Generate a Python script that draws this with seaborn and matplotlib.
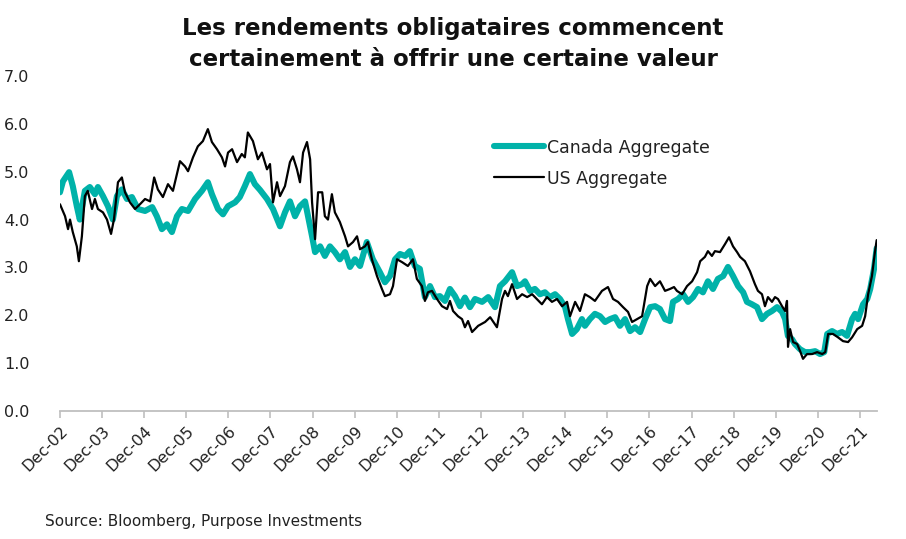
import pandas as pd
import matplotlib.pyplot as plt
import matplotlib.dates as mdates
import seaborn as sns

# yields (%)
us_dates = [
    "2002-12-01", "2003-01-14", "2003-02-09", "2003-02-26", "2003-03-22", "2003-04-26", "2003-05-14",
    "2003-06-09", "2003-07-05", "2003-07-30", "2003-09-05", "2003-09-30", "2003-10-26", "2003-12-09",
    "2004-01-13", "2004-02-17", "2004-03-13", "2004-04-17", "2004-05-21", "2004-06-17", "2004-07-30",
    "2004-09-12", "2004-10-25", "2004-12-08", "2005-01-21", "2005-02-25", "2005-03-29", "2005-05-12",
    "2005-06-25", "2005-08-07", "2005-10-07", "2005-11-20", "2005-12-16", "2006-01-28", "2006-03-11",
    "2006-04-24", "2006-06-06", "2006-07-11", "2006-08-24", "2006-10-06", "2006-11-02", "2006-11-28",
    "2007-01-02", "2007-02-14", "2007-03-27", "2007-04-23", "2007-05-19", "2007-07-02", "2007-08-14",
    "2007-09-18", "2007-11-01", "2007-11-27", "2007-12-23", "2008-01-27", "2008-02-22", "2008-04-05",
    "2008-05-18", "2008-06-13", "2008-07-18", "2008-08-13", "2008-09-09", "2008-10-13", "2008-11-09",
    "2008-11-26", "2008-12-22", "2009-01-17", "2009-02-22", "2009-03-17", "2009-04-13", "2009-05-17",
    "2009-06-12", "2009-07-25", "2009-09-08", "2009-10-04", "2009-11-16", "2009-12-21", "2010-01-16",
    "2010-02-28", "2010-03-25", "2010-04-29", "2010-06-12", "2010-07-25", "2010-08-20", "2010-10-03",
    "2010-10-29", "2010-12-03", "2011-01-16", "2011-03-07", "2011-04-20", "2011-05-24", "2011-07-07",
    "2011-08-02", "2011-08-28", "2011-10-02", "2011-11-15", "2011-12-28", "2012-02-10", "2012-03-06",
    "2012-04-02", "2012-05-15", "2012-06-19", "2012-07-14", "2012-08-10", "2012-09-14", "2012-11-06",
    "2013-01-05", "2013-02-18", "2013-04-18", "2013-06-01", "2013-06-27", "2013-07-22", "2013-08-27",
    "2013-10-09", "2013-11-22", "2014-01-05", "2014-02-17", "2014-03-30", "2014-05-13", "2014-06-26",
    "2014-08-08", "2014-09-21", "2014-11-04", "2014-12-17", "2015-01-12", "2015-02-25", "2015-04-08",
    "2015-05-21", "2015-07-03", "2015-08-16", "2015-10-16", "2015-12-07", "2016-01-20", "2016-03-03",
    "2016-04-16", "2016-05-29", "2016-07-03", "2016-08-15", "2016-09-28", "2016-11-11", "2016-12-07",
    "2017-01-19", "2017-03-02", "2017-04-15", "2017-05-28", "2017-07-02", "2017-07-27", "2017-09-10",
    "2017-10-23", "2017-12-06", "2018-01-18", "2018-02-14", "2018-03-27", "2018-04-22", "2018-05-27",
    "2018-06-22", "2018-08-05", "2018-09-18", "2018-10-22", "2018-11-26", "2018-12-31", "2019-01-26",
    "2019-03-09", "2019-04-22", "2019-06-04", "2019-06-30", "2019-08-04", "2019-08-30", "2019-09-25",
    "2019-10-30", "2019-11-25", "2019-12-21", "2020-01-25", "2020-02-21", "2020-03-08", "2020-03-17",
    "2020-04-04", "2020-04-30", "2020-06-04", "2020-06-30", "2020-07-25", "2020-08-29", "2020-10-12",
    "2020-11-25", "2021-01-08", "2021-02-03", "2021-02-28", "2021-04-11", "2021-05-24", "2021-07-07",
    "2021-08-20", "2021-09-24", "2021-11-07", "2021-12-20", "2022-01-15", "2022-02-10", "2022-03-15",
    "2022-04-10", "2022-04-25",
]
us_yield = [
    4.32, 4.07, 3.80, 4.00, 3.74, 3.44, 3.13,
    3.65, 4.49, 4.60, 4.22, 4.43, 4.22, 4.15,
    4.00, 3.70, 4.00, 4.78, 4.88, 4.57, 4.36,
    4.22, 4.32, 4.43, 4.38, 4.88, 4.63, 4.47,
    4.74, 4.60, 5.22, 5.11, 5.01, 5.30, 5.53,
    5.64, 5.89, 5.62, 5.47, 5.30, 5.11, 5.40,
    5.47, 5.20, 5.37, 5.30, 5.82, 5.64, 5.26,
    5.40, 5.05, 5.16, 4.36, 4.78, 4.49, 4.70,
    5.20, 5.32, 5.05, 4.78, 5.40, 5.62, 5.26,
    4.36, 3.59, 4.57, 4.57, 4.07, 4.00, 4.53,
    4.15, 3.95, 3.65, 3.44, 3.53, 3.65, 3.38,
    3.44, 3.53, 3.17, 2.82, 2.55, 2.40, 2.44,
    2.61, 3.17, 3.11, 3.03, 3.17, 2.76, 2.61,
    2.30, 2.48, 2.51, 2.34, 2.19, 2.13, 2.30,
    2.09, 1.98, 1.92, 1.75, 1.88, 1.65, 1.78,
    1.86, 1.96, 1.75, 2.34, 2.51, 2.40, 2.65,
    2.34, 2.44, 2.38, 2.44, 2.34, 2.23, 2.38,
    2.28, 2.34, 2.19, 2.28, 1.98, 2.28, 2.09,
    2.44, 2.38, 2.30, 2.51, 2.59, 2.34, 2.28,
    2.17, 2.07, 1.86, 1.92, 1.98, 2.61, 2.76,
    2.61, 2.71, 2.51, 2.55, 2.59, 2.51, 2.44,
    2.61, 2.71, 2.90, 3.13, 3.22, 3.34, 3.24,
    3.34, 3.32, 3.49, 3.63, 3.44, 3.32, 3.22,
    3.13, 2.92, 2.65, 2.51, 2.44, 2.19, 2.38,
    2.28, 2.38, 2.34, 2.19, 2.09, 2.30, 1.34,
    1.71, 1.44, 1.40, 1.25, 1.09, 1.19, 1.19,
    1.23, 1.19, 1.23, 1.61, 1.61, 1.54, 1.46,
    1.44, 1.54, 1.71, 1.78, 1.98, 2.44, 2.82,
    3.32, 3.57,
]

cad_dates = [
    "2002-12-01", "2002-12-27", "2003-02-18", "2003-03-22", "2003-04-26", "2003-05-22", "2003-07-05",
    "2003-08-17", "2003-09-30", "2003-10-26", "2003-12-09", "2004-01-21", "2004-03-04", "2004-04-08",
    "2004-05-21", "2004-07-04", "2004-08-16", "2004-10-08", "2004-12-08", "2005-02-08", "2005-03-20",
    "2005-05-03", "2005-06-16", "2005-07-29", "2005-09-11", "2005-10-24", "2005-12-16", "2006-02-15",
    "2006-04-15", "2006-06-06", "2006-07-11", "2006-09-02", "2006-10-15", "2006-11-28", "2007-01-28",
    "2007-03-10", "2007-04-23", "2007-06-06", "2007-07-19", "2007-09-01", "2007-11-01", "2007-12-23",
    "2008-02-22", "2008-04-05", "2008-05-18", "2008-07-01", "2008-08-13", "2008-09-26", "2008-10-22",
    "2008-11-26", "2008-12-22", "2009-02-04", "2009-03-17", "2009-04-30", "2009-06-12", "2009-07-25",
    "2009-09-08", "2009-10-21", "2009-12-03", "2010-01-16", "2010-03-16", "2010-05-07", "2010-07-07",
    "2010-08-20", "2010-10-03", "2010-11-16", "2010-12-29", "2011-02-11", "2011-03-24", "2011-05-07",
    "2011-06-19", "2011-08-02", "2011-09-15", "2011-10-28", "2011-12-10", "2012-01-23", "2012-03-06",
    "2012-04-19", "2012-06-01", "2012-07-14", "2012-08-27", "2012-10-10", "2012-12-10", "2013-02-01",
    "2013-04-01", "2013-05-14", "2013-06-27", "2013-08-27", "2013-10-09", "2013-11-22", "2013-12-17",
    "2014-01-30", "2014-03-13", "2014-04-26", "2014-06-08", "2014-07-21", "2014-09-04", "2014-10-17",
    "2014-11-30", "2014-12-25", "2015-01-30", "2015-03-12", "2015-04-25", "2015-05-21", "2015-07-03",
    "2015-08-16", "2015-09-29", "2015-11-12", "2015-12-25", "2016-02-07", "2016-03-20", "2016-05-03",
    "2016-06-16", "2016-07-29", "2016-09-11", "2016-10-24", "2016-12-07", "2017-01-19", "2017-03-02",
    "2017-04-15", "2017-05-28", "2017-06-23", "2017-08-06", "2017-09-18", "2017-11-01", "2017-12-14",
    "2018-01-27", "2018-03-10", "2018-04-22", "2018-06-05", "2018-07-18", "2018-09-01", "2018-10-13",
    "2018-11-26", "2019-01-09", "2019-02-22", "2019-03-27", "2019-05-09", "2019-06-22", "2019-08-04",
    "2019-09-17", "2019-10-30", "2019-12-13", "2020-01-25", "2020-02-21", "2020-03-16", "2020-04-21",
    "2020-05-16", "2020-06-29", "2020-08-12", "2020-09-25", "2020-11-07", "2020-12-20", "2021-01-25",
    "2021-02-20", "2021-04-03", "2021-05-16", "2021-06-29", "2021-08-11", "2021-09-24", "2021-10-20",
    "2021-11-15", "2021-12-28", "2022-02-02", "2022-02-28", "2022-04-02", "2022-04-25",
]
cad_yield = [
    4.57, 4.80, 4.99, 4.70, 4.28, 4.00, 4.60,
    4.68, 4.53, 4.68, 4.49, 4.28, 4.00, 4.49,
    4.63, 4.43, 4.47, 4.22, 4.18, 4.26, 4.07,
    3.80, 3.90, 3.74, 4.07, 4.22, 4.18, 4.43,
    4.60, 4.78, 4.53, 4.22, 4.11, 4.28, 4.36,
    4.47, 4.70, 4.95, 4.74, 4.62, 4.43, 4.22,
    3.86, 4.15, 4.38, 4.07, 4.28, 4.38, 4.07,
    3.65, 3.32, 3.44, 3.24, 3.44, 3.32, 3.17,
    3.32, 3.01, 3.17, 3.03, 3.53, 3.17, 2.90,
    2.69, 2.82, 3.17, 3.28, 3.24, 3.34, 3.03,
    2.97, 2.38, 2.61, 2.38, 2.40, 2.30, 2.55,
    2.40, 2.19, 2.37, 2.17, 2.34, 2.28, 2.38,
    2.17, 2.61, 2.71, 2.90, 2.61, 2.65, 2.71,
    2.51, 2.55, 2.44, 2.48, 2.38, 2.44, 2.34,
    2.17, 1.92, 1.61, 1.71, 1.92, 1.78, 1.92,
    2.03, 1.98, 1.86, 1.92, 1.96, 1.78, 1.92,
    1.67, 1.75, 1.65, 1.92, 2.17, 2.19, 2.13,
    1.92, 1.88, 2.28, 2.34, 2.44, 2.28, 2.38,
    2.55, 2.48, 2.71, 2.55, 2.76, 2.82, 3.01,
    2.82, 2.61, 2.48, 2.28, 2.23, 2.17, 1.92,
    2.03, 2.09, 2.17, 2.07, 1.92, 1.57, 1.50,
    1.40, 1.29, 1.23, 1.23, 1.25, 1.19, 1.23,
    1.61, 1.67, 1.61, 1.65, 1.57, 1.92, 2.03,
    1.92, 2.23, 2.34, 2.55, 2.97, 3.40,
]

tick_years = list(range(2002, 2022))

TEAL = "#00B2A9"
GREY = "#BFBFBF"

sns.set_theme(style="white")
plt.rcParams["font.family"] = ["DejaVu Sans"]

us = pd.DataFrame({"date": pd.to_datetime(us_dates), "yield": us_yield})
cad = pd.DataFrame({"date": pd.to_datetime(cad_dates), "yield": cad_yield})

fig = plt.figure(figsize=(9.06, 5.39), dpi=100)
ax = fig.add_axes([0.0662, 0.2375, 0.9018, 0.6215])

sns.lineplot(x="date", y="yield", data=cad, color=TEAL, linewidth=4.4,
             label="Canada Aggregate", ax=ax)
sns.lineplot(x="date", y="yield", data=us, color="black", linewidth=1.6,
             label="US Aggregate", ax=ax)

ax.set_xlim(pd.Timestamp("2002-12-01"), pd.Timestamp("2022-04-28"))
ax.set_ylim(0, 7)
ax.set_yticks([0, 1, 2, 3, 4, 5, 6, 7])
ax.set_yticklabels([f"{v:.1f}" for v in range(8)], fontsize=11.5, color="#222222")

ticks = [pd.Timestamp(f"{y}-12-01") for y in tick_years]
ax.set_xticks(ticks)
ax.xaxis.set_major_formatter(mdates.DateFormatter("%b-%y"))
plt.setp(ax.get_xticklabels(), rotation=45, ha="right", rotation_mode="anchor",
         fontsize=11.5, color="#222222")

ax.set_xlabel("")
ax.set_ylabel("")
for side in ["left", "right", "top"]:
    ax.spines[side].set_visible(False)
ax.spines["bottom"].set_color(GREY)
ax.spines["bottom"].set_linewidth(1.3)
ax.tick_params(axis="x", which="major", bottom=True, length=5, width=1.2,
               color=GREY, pad=4)
ax.tick_params(axis="y", left=False, pad=16)
ax.grid(False)

leg = ax.legend(loc="upper left", bbox_to_anchor=(0.512, 0.86), frameon=False,
                fontsize=12.5, handlelength=2.9, handletextpad=0.15, labelspacing=0.75)
for t in leg.get_texts():
    t.set_color("#222222")

fig.text(0.5, 0.968, "Les rendements obligataires commencent\ncertainement à offrir une certaine valeur",
         ha="center", va="top", fontsize=16.5, fontweight="bold", color="#111111",
         linespacing=1.45)
fig.text(0.05, 0.033, "Source: Bloomberg, Purpose Investments", ha="left", va="center",
         fontsize=11, color="#222222")

fig.savefig("out.png", dpi=100)
